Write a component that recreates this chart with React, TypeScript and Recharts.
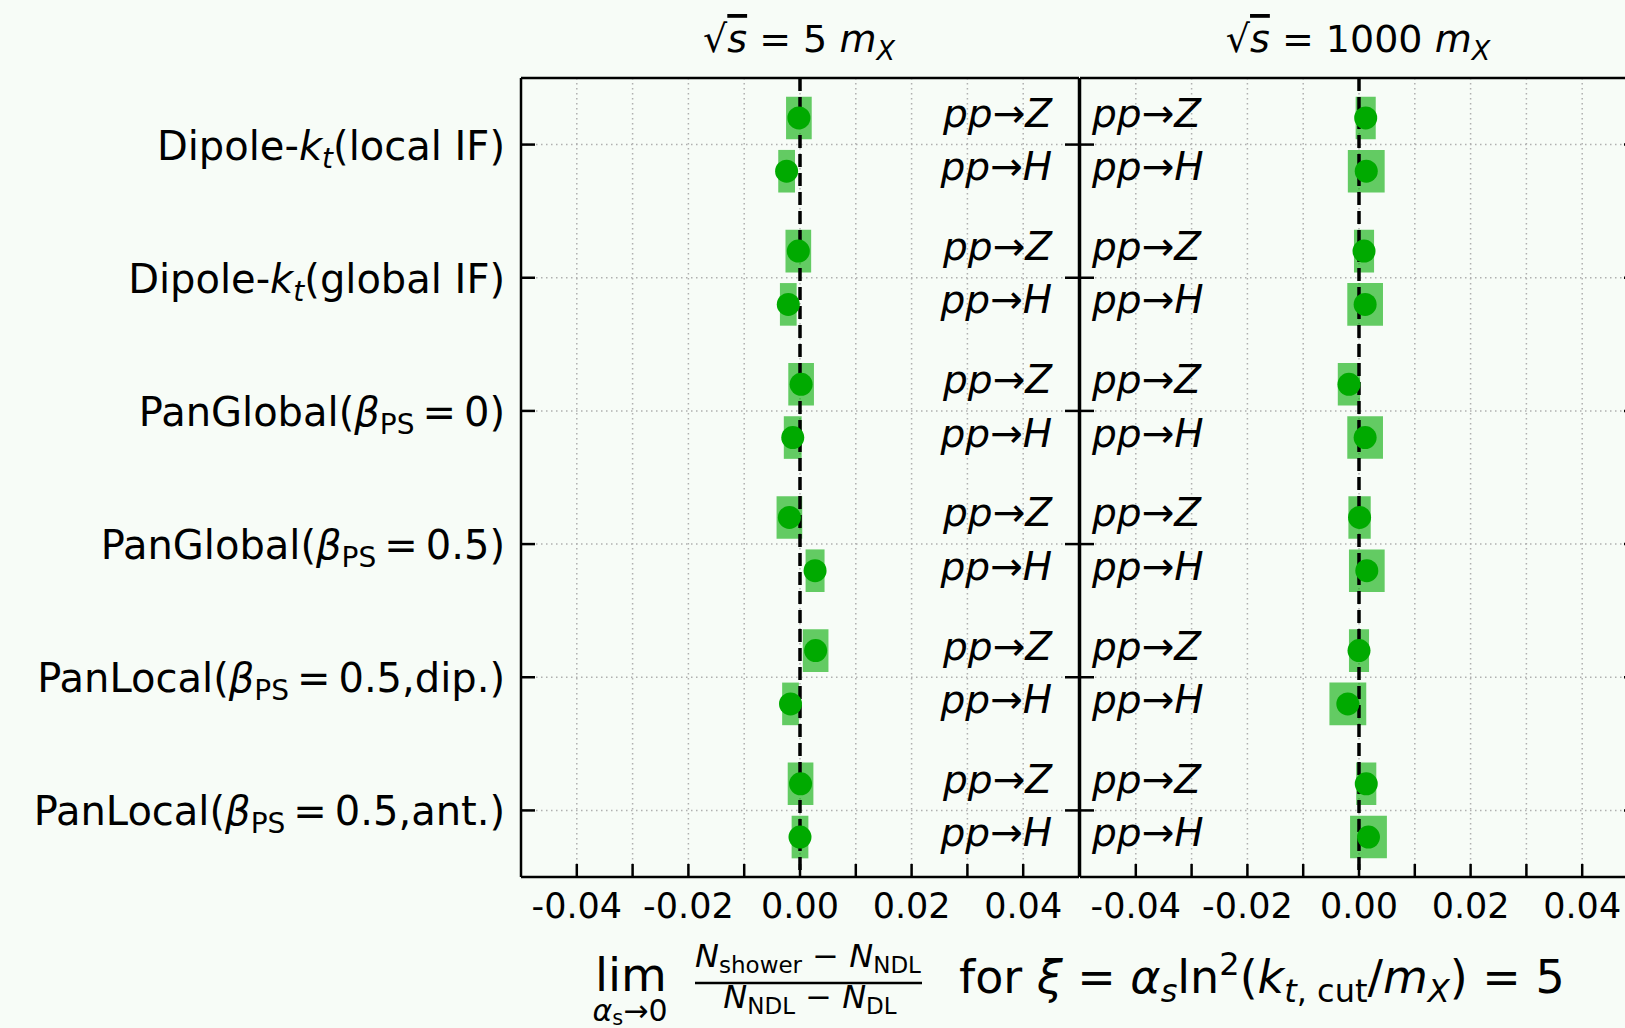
import React from 'react';
import {
  ComposedChart, Scatter, XAxis, YAxis, CartesianGrid, ReferenceArea,
} from 'recharts';

// shower labels (rows, top to bottom)
const showerNames = ['Dipole-kt', 'Dipole-kt', 'PanGlobal', 'PanGlobal', 'PanLocal', 'PanLocal'];
const showerArgs = ['local IF', 'global IF', '0', '0.5', '0.5,dip.', '0.5,ant.'];
const processes = ['Z', 'H'];
const panelTitles = ['5', '1000'];

const xTicks = [-0.04, -0.03, -0.02, -0.01, 0, 0.01, 0.02, 0.03, 0.04];
const xLabelTicks = [-0.04, -0.02, 0, 0.02, 0.04];
const rowTicks = [0, 1, 2, 3, 4, 5];

// sqrt(s) = 5 m_X
const lowZ = [-0.0002, -0.0003, 0.0002, -0.0019, 0.0028, 0.0001];
const lowZErr = [0.0023, 0.0023, 0.0023, 0.0023, 0.0023, 0.0023];
const lowH = [-0.0024, -0.0021, -0.0013, 0.0027, -0.0017, 0.0];
const lowHErr = [0.0015, 0.0015, 0.0016, 0.0017, 0.0015, 0.0015];

// sqrt(s) = 1000 m_X
const highZ = [0.0012, 0.0009, -0.0018, 0.0001, 0.0, 0.0013];
const highZErr = [0.0018, 0.0018, 0.002, 0.002, 0.0018, 0.0018];
const highH = [0.0013, 0.0011, 0.0011, 0.0014, -0.002, 0.0017];
const highHErr = [0.0033, 0.0032, 0.0032, 0.0032, 0.0033, 0.0033];

// reference line x = 0
const zeroLine = [{ x: 0, y: -0.5 }, { x: 0, y: 5.5 }];

const W = 1625;
const H = 1028;
const PLOT_TOP = 78;
const PLOT_H = 799;
const PLOT_BOTTOM = PLOT_TOP + PLOT_H;
const PANEL_W = 558;
const TICK_LEN = 13;
const FONT = '"DejaVu Sans", sans-serif';
const GREEN = '#00aa00';
const BG = '#f7fcf7';
const ROW_SHIFT = 0.2;
const BOX_HALF = 0.16;

type Pt = { x: number; err: number; y: number; proc: string };

function buildPoints(zv: number[], ze: number[], hv: number[], he: number[]): Pt[] {
  const pts: Pt[] = [];
  [[zv, ze], [hv, he]].forEach(([vals, errs], p) => {
    vals.forEach((v, i) => {
      pts.push({ x: v, err: errs[i], y: i + (p === 0 ? -ROW_SHIFT : ROW_SHIFT), proc: processes[p] });
    });
  });
  return pts;
}

function ShowerLabel({ x, y, index }: { x: number; y: number; index: number }) {
  const name = showerNames[index];
  const arg = showerArgs[index];
  const by = y + 15;
  if (name === 'Dipole-kt') {
    return (
      <text x={x} y={by} textAnchor="end" fontSize={40} fontFamily={FONT} fill="#000">
        Dipole-<tspan fontStyle="italic">k</tspan>
        <tspan fontStyle="italic" fontSize={28} dy={8}>t</tspan>
        <tspan dy={-8}>({arg})</tspan>
      </text>
    );
  }
  return (
    <text x={x} y={by} textAnchor="end" fontSize={40} fontFamily={FONT} fill="#000">
      {name}(<tspan fontStyle="italic">β</tspan>
      <tspan fontSize={28} dy={8}>PS</tspan>
      <tspan dy={-8}>{'\u2009=\u2009'}{arg})</tspan>
    </text>
  );
}

function Panel({ left, marginLeft, width, points, showNames, labelSide }: {
  left: number; marginLeft: number; width: number; points: Pt[]; showNames: boolean; labelSide: 'start' | 'end';
}) {
  const plotLeft = marginLeft;
  const plotRight = marginLeft + PANEL_W;
  const labelX = labelSide === 'end' ? plotRight - 27 : plotLeft + 12;
  const spine = { stroke: '#000', strokeWidth: 2.5 };
  // axes take 1px each, the margins leave room for them
  return (
    <div style={{ position: 'absolute', left, top: 0 }}>
      <ComposedChart
        width={width}
        height={H}
        margin={{
          top: PLOT_TOP - 1,
          left: marginLeft - 1,
          right: width - marginLeft - PANEL_W - 1,
          bottom: H - PLOT_BOTTOM - 1,
        }}
      >
        <CartesianGrid stroke="#b0b0b0" strokeDasharray="1.5 3.5" strokeWidth={1.5} />
        <XAxis
          type="number" dataKey="x" domain={[-0.05, 0.05]} ticks={xTicks} interval={0}
          height={1} tickLine={false} axisLine={spine} allowDataOverflow
          tick={(p: any) => {
            const v = p.payload.value;
            const lab = xLabelTicks.some((t) => Math.abs(t - v) < 1e-9);
            return (
              <g>
                <line x1={p.x} x2={p.x} y1={PLOT_BOTTOM} y2={PLOT_BOTTOM - TICK_LEN} stroke="#000" strokeWidth={2.5} />
                {lab && (
                  <text x={p.x} y={918} textAnchor="middle" fontSize={35} fontFamily={FONT} fill="#000">
                    {v.toFixed(2)}
                  </text>
                )}
              </g>
            );
          }}
        />
        <XAxis
          xAxisId="top" orientation="top" type="number" domain={[-0.05, 0.05]} ticks={xTicks} interval={0}
          height={1} tickLine={false} axisLine={spine} allowDataOverflow
          tick={(p: any) => (
            <line x1={p.x} x2={p.x} y1={PLOT_TOP} y2={PLOT_TOP + TICK_LEN} stroke="#000" strokeWidth={2.5} />
          )}
        />
        <YAxis
          type="number" dataKey="y" domain={[-0.5, 5.5]} reversed ticks={rowTicks} interval={0}
          width={1} tickLine={false} axisLine={spine} allowDataOverflow
          tick={(p: any) => (
            <g>
              <line x1={plotLeft} x2={plotLeft + 14} y1={p.y} y2={p.y} stroke="#000" strokeWidth={2.5} />
              {showNames && <ShowerLabel x={505 - left} y={p.y} index={p.payload.value} />}
            </g>
          )}
        />
        <YAxis
          yAxisId="right" orientation="right" type="number" domain={[-0.5, 5.5]} reversed ticks={rowTicks} interval={0}
          width={1} tickLine={false} axisLine={spine} allowDataOverflow
          tick={(p: any) => (
            <line x1={plotRight} x2={plotRight - 14} y1={p.y} y2={p.y} stroke="#000" strokeWidth={2.5} />
          )}
        />
        {points.map((d, i) => (
          <ReferenceArea
            key={i}
            x1={d.x - d.err} x2={d.x + d.err}
            y1={d.y - BOX_HALF} y2={d.y + BOX_HALF}
            fill={GREEN} fillOpacity={0.6} stroke="none"
          />
        ))}
        <Scatter
          data={zeroLine} isAnimationActive={false}
          line={{ stroke: '#000', strokeWidth: 3.5, strokeDasharray: '13 6' }}
          shape={() => <g />}
        />
        <Scatter
          data={points} isAnimationActive={false}
          shape={(p: any) => <circle cx={p.cx} cy={p.cy} r={11.5} fill={GREEN} />}
        />
        <Scatter
          data={points} isAnimationActive={false}
          shape={(p: any) => (
            <text x={labelX} y={p.cy + 9} textAnchor={labelSide} fontSize={39} fontFamily={FONT} fill="#000">
              <tspan fontStyle="italic">pp</tspan>→<tspan fontStyle="italic">{p.payload.proc}</tspan>
            </text>
          )}
        />
      </ComposedChart>
    </div>
  );
}

function Overlay() {
  const title = (cx: number, val: string) => (
    <text x={cx} y={52} textAnchor="middle" fontSize={38} fontFamily={FONT} fill="#000">
      √<tspan fontStyle="italic" textDecoration="overline">s</tspan>
      {' = '}{val}{' '}
      <tspan fontStyle="italic">m</tspan>
      <tspan fontStyle="italic" fontSize={27} dy={8}>X</tspan>
    </text>
  );
  return (
    <svg width={W} height={H} style={{ position: 'absolute', left: 0, top: 0, pointerEvents: 'none' }}>
      {title(799, panelTitles[0])}
      {title(1358, panelTitles[1])}
      {/* x label */}
      <text x={595} y={991} fontSize={47} fontFamily={FONT} fill="#000">lim</text>
      <text x={630} y={1021} textAnchor="middle" fontSize={30} fontFamily={FONT} fill="#000">
        <tspan fontStyle="italic">α</tspan>
        <tspan fontSize={21} dy={4}>s</tspan>
        <tspan dy={-4}>→0</tspan>
      </text>
      <text x={808} y={967} textAnchor="middle" fontSize={32} fontFamily={FONT} fill="#000">
        <tspan fontStyle="italic">N</tspan>
        <tspan fontSize={23} dy={6}>shower</tspan>
        <tspan dy={-6}>{' − '}</tspan>
        <tspan fontStyle="italic">N</tspan>
        <tspan fontSize={23} dy={6}>NDL</tspan>
      </text>
      <line x1={695} x2={922} y1={983} y2={983} stroke="#000" strokeWidth={2.5} />
      <text x={810} y={1008} textAnchor="middle" fontSize={32} fontFamily={FONT} fill="#000">
        <tspan fontStyle="italic">N</tspan>
        <tspan fontSize={23} dy={6}>NDL</tspan>
        <tspan dy={-6}>{' − '}</tspan>
        <tspan fontStyle="italic">N</tspan>
        <tspan fontSize={23} dy={6}>DL</tspan>
      </text>
      <text x={959} y={993} fontSize={46} fontFamily={FONT} fill="#000">
        {'for '}<tspan fontStyle="italic">ξ</tspan>{' = '}
        <tspan fontStyle="italic">α</tspan>
        <tspan fontStyle="italic" fontSize={32} dy={9}>s</tspan>
        <tspan dy={-9}>ln</tspan>
        <tspan fontSize={32} dy={-18}>2</tspan>
        <tspan dy={18}>(</tspan>
        <tspan fontStyle="italic">k</tspan>
        <tspan fontStyle="italic" fontSize={32} dy={9}>t</tspan>
        <tspan fontSize={32}>, cut</tspan>
        <tspan dy={-9}>/</tspan>
        <tspan fontStyle="italic">m</tspan>
        <tspan fontStyle="italic" fontSize={32} dy={9}>X</tspan>
        <tspan dy={-9}>{') = 5'}</tspan>
      </text>
    </svg>
  );
}

export default function App() {
  const lowPts = buildPoints(lowZ, lowZErr, lowH, lowHErr);
  const highPts = buildPoints(highZ, highZErr, highH, highHErr);
  return (
    <div style={{ position: 'fixed', left: 0, top: 0, width: W, height: H, overflow: 'hidden', background: BG }}>
      <Panel left={0} marginLeft={521} width={1100} points={lowPts} showNames labelSide="end" />
      <Panel left={1000} marginLeft={80} width={700} points={highPts} showNames={false} labelSide="start" />
      <Overlay />
    </div>
  );
}
